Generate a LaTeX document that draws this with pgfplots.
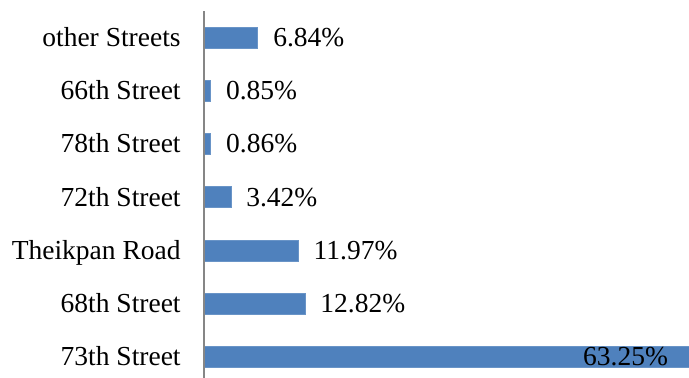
\documentclass[border=0pt]{standalone}
\usepackage{pgfplots}
\pgfplotsset{compat=1.18}
\usepackage{fontspec}
\setmainfont{Liberation Serif}
\definecolor{barblue}{HTML}{4F81BD}
\definecolor{axisgray}{HTML}{868686}
\begin{document}
\begin{tikzpicture}
\path[use as bounding box] (0,0) rectangle (344.5bp,189bp);
\begin{axis}[
  at={(102bp,-2.85bp)}, anchor=south west,
  scale only axis, width=275.8bp, height=186.4bp,
  xmin=0, xmax=70, ymin=-0.5, ymax=6.5,
  xbar, bar width=10.5bp, bar shift=0pt,
  axis line style={draw=none},
  hide x axis,
  ytick={0,1,2,3,4,5,6},
  yticklabels={73th Street,68th Street,Theikpan Road,72th Street,78th Street,66th Street,other Streets},
  major tick length=0pt,
  yticklabel style={font=\fontsize{13.8}{16}\selectfont, anchor=base east, inner sep=0pt, xshift=-11.5bp, yshift=-4.4bp},
  clip=false,
  point meta=explicit symbolic,
]
\addplot[fill=barblue, draw=barblue!85!white, line width=0.4bp, nodes near coords,
  every node near coord/.append style={font=\fontsize{13.8}{16}\selectfont, inner sep=0pt, anchor=base west, xshift=7.5bp, yshift=-4.4bp}] coordinates {
  (12.82,1) [12.82\%]
  (11.97,2) [11.97\%]
  (3.42,3) [3.42\%]
  (0.86,4) [0.86\%]
  (0.85,5) [0.85\%]
  (6.84,6) [6.84\%]
};
\addplot[fill=barblue, draw=barblue!85!white, line width=0.4bp, nodes near coords,
  every node near coord/.append style={font=\fontsize{13.8}{16}\selectfont, inner sep=0pt, anchor=base east, xshift=-17bp, yshift=-4.4bp}] coordinates {
  (63.25,0) [63.25\%]
};
\draw[axisgray, line width=0.75bp] (axis cs:0,-0.5) -- (axis cs:0,6.5);
\end{axis}
\end{tikzpicture}
\end{document}
